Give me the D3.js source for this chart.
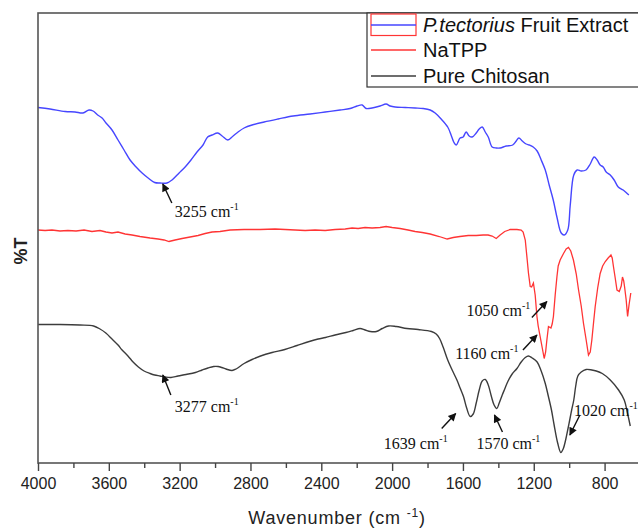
<!DOCTYPE html>
<html>
<head>
<meta charset="utf-8">
<script src="https://cdn.jsdelivr.net/npm/d3@7"></script>
<style>
  body { margin: 0; background: #fff; }
  svg { display: block; }
</style>
</head>
<body>
<svg id="chart" width="638" height="529"></svg>
<script>
// FTIR spectra: [wavenumber (cm-1), transmittance (offset, arbitrary %T)]
const extractSpectrum = [
  [4000,71.1],[3932,70.8],[3847,70.3],[3791,70.2],[3746,70.0],[3712,70.6],[3689,70.4],[3663,69.6],
  [3638,69.0],[3616,68.0],[3582,66.6],[3548,64.6],[3514,62.6],[3480,60.6],[3446,59.2],[3412,58.0],
  [3378,57.0],[3341,56.1],[3311,56.0],[3272,56.0],[3243,56.6],[3203,58.0],[3169,59.2],[3136,60.6],
  [3102,62.2],[3068,63.6],[3042,65.2],[3017,65.6],[2985,66.0],[2960,65.4],[2928,64.6],[2898,65.4],
  [2870,66.2],[2836,67.0],[2791,67.6],[2723,68.2],[2644,68.8],[2559,69.4],[2463,69.8],[2378,70.2],
  [2294,70.6],[2237,70.9],[2198,71.4],[2169,71.6],[2147,70.9],[2113,71.0],[2068,71.4],[2034,71.8],
  [2011,71.4],[1983,71.2],[1926,71.1],[1870,71.0],[1825,70.9],[1785,70.6],[1757,70.0],[1723,68.8],
  [1686,67.2],[1667,65.6],[1652,64.2],[1638,63.6],[1616,65.0],[1599,65.2],[1582,66.2],[1565,65.4],
  [1548,65.2],[1525,66.0],[1508,66.8],[1491,67.2],[1474,66.2],[1457,65.2],[1435,63.2],[1412,63.0],
  [1390,63.0],[1356,63.4],[1319,63.6],[1299,64.4],[1284,65.0],[1265,64.4],[1243,63.8],[1226,63.6],
  [1203,63.2],[1181,62.4],[1158,60.6],[1135,58.6],[1113,55.6],[1090,52.6],[1068,49.0],[1045,46.0],
  [1028,45.6],[1008,46.6],[994,51.6],[974,57.6],[955,58.6],[932,58.4],[905,58.6],[881,59.8],
  [859,61.2],[842,60.6],[825,59.6],[808,59.2],[791,58.2],[768,57.6],[746,56.6],[723,55.2],
  [695,54.6],[663,53.6]
];

const natppSpectrum = [
  [4000,46.6],[3960,46.5],[3921,46.6],[3876,46.4],[3831,46.5],[3785,46.4],[3740,46.6],[3695,46.3],
  [3650,46.5],[3616,46.2],[3582,46.0],[3548,46.2],[3508,45.8],[3469,45.6],[3424,45.3],[3367,45.0],
  [3322,44.8],[3288,44.6],[3260,44.3],[3226,44.6],[3186,44.9],[3141,45.2],[3096,45.5],[3056,45.9],
  [3017,46.2],[2972,46.3],[2915,46.6],[2836,46.7],[2746,46.7],[2661,46.8],[2604,46.7],[2548,46.6],
  [2491,46.5],[2435,46.6],[2378,46.5],[2322,46.7],[2265,46.8],[2226,47.0],[2192,46.9],[2153,47.1],
  [2113,47.0],[2068,47.1],[2034,47.3],[2000,47.1],[1955,46.9],[1910,46.6],[1870,46.3],[1830,46.1],
  [1785,45.8],[1734,45.3],[1689,44.8],[1655,45.1],[1617,45.3],[1570,45.5],[1525,45.5],[1486,45.6],
  [1458,45.6],[1435,45.4],[1412,44.9],[1390,45.6],[1364,46.3],[1333,46.7],[1295,46.7],[1271,46.6],
  [1260,46.2],[1248,44.6],[1237,40.6],[1230,38.0],[1220,35.3],[1212,35.2],[1202,36.0],[1192,33.6],
  [1182,29.3],[1175,27.4],[1164,25.3],[1152,23.0],[1141,20.9],[1133,22.2],[1126,24.6],[1117,27.3],
  [1103,27.0],[1096,27.8],[1089,29.3],[1079,33.6],[1069,37.3],[1062,39.4],[1051,40.6],[1032,41.9],
  [1017,42.8],[1004,43.1],[991,42.4],[976,40.6],[960,37.8],[947,34.6],[932,31.4],[919,27.9],
  [904,24.6],[891,21.6],[881,22.2],[872,24.6],[862,28.2],[853,31.3],[839,35.0],[825,37.9],
  [811,39.4],[796,40.3],[780,41.0],[764,41.6],[757,41.0],[750,39.3],[740,37.0],[730,34.6],
  [717,34.3],[706,35.4],[699,37.2],[692,36.4],[687,35.2],[678,32.6],[670,29.3],[662,31.6],
  [652,34.0]
];

const chitosanSpectrum = [
  [4000,27.7],[3876,27.7],[3763,27.6],[3686,27.4],[3650,26.8],[3617,26.0],[3582,24.8],[3548,23.6],
  [3525,22.6],[3492,21.4],[3463,20.2],[3433,19.2],[3401,18.4],[3367,17.9],[3341,17.6],[3311,17.4],
  [3282,17.2],[3249,17.1],[3209,17.4],[3164,17.7],[3111,18.1],[3073,18.6],[3040,19.0],[3008,19.3],
  [2983,19.3],[2962,19.1],[2938,18.8],[2904,18.5],[2881,18.8],[2836,19.9],[2791,20.7],[2743,21.4],
  [2678,22.1],[2606,22.7],[2537,23.5],[2468,24.3],[2418,24.8],[2376,25.1],[2322,25.6],[2261,26.1],
  [2220,26.5],[2181,26.9],[2152,26.6],[2123,26.3],[2089,26.3],[2056,26.9],[2020,27.4],[1977,27.3],
  [1916,26.9],[1853,26.7],[1778,26.3],[1751,25.8],[1732,24.9],[1712,23.2],[1686,20.6],[1661,18.6],
  [1634,16.6],[1616,15.0],[1597,13.3],[1579,11.0],[1559,9.3],[1542,9.8],[1525,12.0],[1508,14.6],
  [1491,16.4],[1474,16.7],[1457,15.6],[1440,13.4],[1424,11.6],[1409,10.9],[1395,12.0],[1378,13.6],
  [1364,14.8],[1345,16.4],[1322,17.8],[1295,18.9],[1271,20.2],[1248,21.1],[1230,21.4],[1209,21.0],
  [1181,20.2],[1158,18.4],[1135,15.9],[1118,13.4],[1100,10.6],[1085,7.6],[1065,4.0],[1047,2.1],
  [1034,2.8],[1020,4.6],[1006,7.0],[997,8.6],[986,10.6],[974,12.6],[963,15.4],[951,17.4],
  [932,18.2],[904,18.7],[872,18.6],[847,18.4],[813,17.9],[768,16.6],[721,14.6],[689,12.6],
  [672,10.2],[655,7.4]
];

const seriesNames = ["P.tectorius Fruit Extract", "NaTPP", "Pure Chitosan"];
const tickLabels = [4000, 3600, 3200, 2800, 2400, 2000, 1600, 1200, 800];
const minorTicks = [3800, 3400, 3000, 2600, 2200, 1800, 1400, 1000];

// Band assignments and the point each arrow indicates [wavenumber, %T]
const peakLabels = ["3255", "3277", "1050", "1160", "1639", "1570", "1020"];
const peakTips = [[3295,55.8],[3295,17.6],[1126,32.3],[1182,25.6],[1641,9.9],[1422,9.6],[996,5.6]];

// ---- layout ----
const svg = d3.select("#chart");
const plot = { left: 38, right: 640, top: 13, bottom: 463 };

const x = d3.scaleLinear().domain([4000, 600]).range([plot.left, plot.right]);
const y = d3.scaleLinear().domain([0, 90]).range([plot.bottom, plot.top]);

const colors = ["#4646ff", "#ff3434", "#3c3c3c"];

// spectra
const smooth = d3.line().x(d => x(d[0])).y(d => y(d[1])).curve(d3.curveCatmullRom.alpha(0.5));
const jagged = d3.line().x(d => x(d[0])).y(d => y(d[1]));

svg.append("path").datum(extractSpectrum)
  .attr("d", smooth).attr("fill", "none").attr("stroke", colors[0]).attr("stroke-width", 1.4);
svg.append("path").datum(natppSpectrum)
  .attr("d", jagged).attr("fill", "none").attr("stroke", colors[1]).attr("stroke-width", 1.3);
svg.append("path").datum(chitosanSpectrum)
  .attr("d", smooth).attr("fill", "none").attr("stroke", colors[2]).attr("stroke-width", 1.4);

// frame
svg.append("rect")
  .attr("x", plot.left).attr("y", plot.top)
  .attr("width", plot.right - plot.left).attr("height", plot.bottom - plot.top)
  .attr("fill", "none").attr("stroke", "#555").attr("stroke-width", 1.6);

// x axis: labelled major ticks plus unlabelled minor ticks
const axisG = svg.append("g").attr("transform", `translate(0,${plot.bottom})`);
axisG.call(d3.axisBottom(x).tickValues(tickLabels).tickFormat(d3.format("d"))
  .tickSize(8).tickSizeOuter(0).tickPadding(7));
axisG.select(".domain").remove();
axisG.selectAll(".tick line").attr("stroke", "#444").attr("stroke-width", 1.4);
axisG.selectAll(".tick text")
  .attr("font-family", "'Liberation Sans', Arial, sans-serif")
  .attr("font-size", 16).attr("fill", "#222");
const minorG = svg.append("g").attr("transform", `translate(0,${plot.bottom})`);
minorG.call(d3.axisBottom(x).tickValues(minorTicks).tickSize(5).tickFormat(""));
minorG.select(".domain").remove();
minorG.selectAll(".tick line").attr("stroke", "#444").attr("stroke-width", 1.4);

// axis titles
const xt = svg.append("text")
  .attr("x", 337).attr("y", 524).attr("text-anchor", "middle")
  .attr("font-family", "'Liberation Sans', Arial, sans-serif")
  .attr("font-size", 18).attr("letter-spacing", 0.8).attr("fill", "#222");
xt.append("tspan").text("Wavenumber (cm ");
xt.append("tspan").attr("dy", -7).attr("font-size", 12).text("-1");
xt.append("tspan").attr("dy", 7).text(")");

svg.append("text")
  .attr("transform", "translate(27,251) rotate(-90)")
  .attr("text-anchor", "middle")
  .attr("font-family", "'Liberation Sans', Arial, sans-serif")
  .attr("font-size", 18).attr("font-weight", "bold").attr("fill", "#222")
  .text("%T");

// legend
const lg = svg.append("g");
lg.append("rect").attr("x", 367).attr("y", plot.top).attr("width", 280).attr("height", 74)
  .attr("fill", "#fff").attr("stroke", "#333").attr("stroke-width", 1.2);
lg.append("rect").attr("x", 371).attr("y", 14).attr("width", 45).attr("height", 21.5)
  .attr("fill", "none").attr("stroke", "#ff3434").attr("stroke-width", 1.2);
const rowY = [25, 50, 76];
seriesNames.forEach((name, i) => {
  lg.append("line").attr("x1", 371).attr("x2", 416).attr("y1", rowY[i]).attr("y2", rowY[i])
    .attr("stroke", colors[i]).attr("stroke-width", 1.4);
  const t = lg.append("text").attr("x", 423).attr("y", rowY[i] + 7)
    .attr("font-family", "'Liberation Sans', Arial, sans-serif")
    .attr("font-size", 20).attr("fill", "#111");
  if (i === 0) {
    const parts = name.split(" ");
    t.append("tspan").attr("font-style", "italic").text(parts[0]);
    t.append("tspan").text(" " + parts.slice(1).join(" "));
  } else {
    t.text(name);
  }
});

// peak annotations with arrows
svg.append("defs").append("marker")
  .attr("id", "head").attr("viewBox", "0 0 10 10")
  .attr("refX", 9).attr("refY", 5)
  .attr("markerWidth", 10).attr("markerHeight", 8)
  .attr("markerUnits", "userSpaceOnUse").attr("orient", "auto")
  .append("path").attr("d", "M0,0 L10,5 L0,10 Z").attr("fill", "#111");

// [arrow tail dx, dy, label dx, dy, anchor] relative to arrow tip, in px
const annLayout = [
  [9, 19, 12, 33, "start"],
  [8, 20, 12, 37, "start"],
  [-15, 16, -16.5, 14.5, "end"],
  [-14, 15, -18.5, 24, "end"],
  [-14, 15, -8, 35.5, "end"],
  [8, 17, -18, 34, "start"],
  [10, -20, 4, -19.5, "start"]
];

peakLabels.forEach((lab, i) => {
  const tx = x(peakTips[i][0]), ty = y(peakTips[i][1]);
  const L = annLayout[i];
  svg.append("line")
    .attr("x1", tx + L[0]).attr("y1", ty + L[1]).attr("x2", tx).attr("y2", ty)
    .attr("stroke", "#111").attr("stroke-width", 1.4).attr("marker-end", "url(#head)");
  const t = svg.append("text")
    .attr("x", tx + L[2]).attr("y", ty + L[3]).attr("text-anchor", L[4])
    .attr("font-family", "'Liberation Serif', 'Times New Roman', serif")
    .attr("font-size", 16).attr("fill", "#111");
  t.append("tspan").text(lab + " cm");
  t.append("tspan").attr("dy", -7).attr("font-size", 10).text("-1");
});
</script>
</body>
</html>
